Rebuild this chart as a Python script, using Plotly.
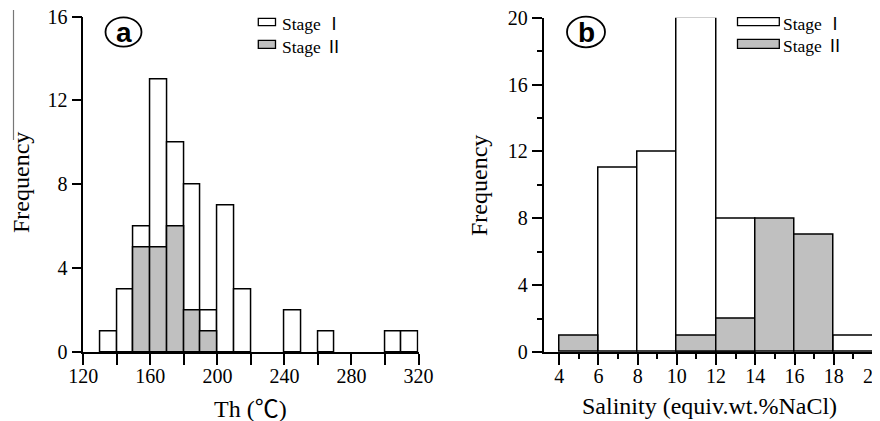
import plotly.graph_objects as go

# ---------------- data ----------------
# Panel a: homogenization temperature Th (°C), bin width 10
th_stage1_left = [130, 140, 150, 160, 170, 180, 190, 200, 210, 240, 260, 300, 310]
th_stage1_freq = [1, 3, 6, 13, 10, 8, 2, 7, 3, 2, 1, 1, 1]
th_stage2_left = [150, 160, 170, 180, 190]
th_stage2_freq = [5, 5, 6, 2, 1]
th_bin_width = 10

# Panel b: salinity (wt.% NaCl eq.), bin width 2
sal_stage1_left = [6, 8, 10, 12, 18]
sal_stage1_freq = [11, 12, 20, 8, 1]
sal_stage2_left = [4, 10, 12, 14, 16]
sal_stage2_freq = [1, 1, 2, 8, 7]
sal_bin_width = 2

series_names = ["Stage", "Stage"]
series_numerals = ["Ⅰ", "Ⅱ"]
# --------------------------------------

# the page body has an 8px default margin: work in window pixels, shifted
OFF = 8
W, H = 880 - OFF, 421 - OFF
def px(x):
    return (x - OFF) / W
def py(y):
    return 1 - (y - OFF) / H

SERIF = "Liberation Serif"
CJK = "Noto Sans CJK SC"
GRAY = "#c0c0c0"
LW = 1.5

def cjk(s):
    return '<span style="font-family:%s">%s</span>' % (CJK, s)

fig = go.Figure()

def add_bars(xl, yv, w, color, xa, ya):
    fig.add_trace(go.Bar(
        x=xl, y=yv, width=[w] * len(xl), offset=0,
        marker=dict(color=color, line=dict(color="black", width=LW)),
        xaxis=xa, yaxis=ya, showlegend=False,
    ))

add_bars(th_stage1_left, th_stage1_freq, th_bin_width, "white", "x", "y")
add_bars(th_stage2_left, th_stage2_freq, th_bin_width, GRAY, "x", "y")
add_bars(sal_stage1_left, sal_stage1_freq, sal_bin_width, "white", "x2", "y2")
add_bars(sal_stage2_left, sal_stage2_freq, sal_bin_width, GRAY, "x2", "y2")

tickfont = dict(family=SERIF, size=20, color="black")
common = dict(showline=True, linecolor="black", linewidth=LW, ticks="outside",
              tickcolor="black", tickwidth=LW, showgrid=False, zeroline=False,
              tickfont=tickfont, automargin=False, ticklabeloverflow="allow")

fig.update_layout(
    width=W, height=H,
    margin=dict(l=0, r=0, t=0, b=0),
    paper_bgcolor="white", plot_bgcolor="white",
    barmode="overlay", bargap=0,
    showlegend=False,
    font=dict(family=SERIF),
    xaxis=dict(domain=[px(83.3), px(418.5)], range=[120, 320], tick0=120, dtick=40,
               ticklen=11, ticklabelstandoff=-6,
               minor=dict(dtick=20, ticklen=11, ticks="outside",
                          tickcolor="black", tickwidth=LW),
               anchor="y", **common),
    yaxis=dict(domain=[py(352), py(16.5)], range=[0, 16], tick0=0, dtick=4,
               ticklen=10, anchor="x", **common),
    xaxis2=dict(domain=[px(543.5), px(873)], range=[3.2, 20], tick0=4, dtick=2,
                ticklen=11, ticklabelstandoff=-6,
                minor=dict(dtick=1, ticklen=5, ticks="outside",
                           tickcolor="black", tickwidth=LW),
                anchor="y2", **common),
    yaxis2=dict(domain=[py(352), py(17.7)], range=[0, 20], tick0=0, dtick=4,
                ticklen=10, minor=dict(dtick=2, ticklen=5, ticks="outside",
                                       tickcolor="black", tickwidth=LW),
                anchor="x2", **common),
)

titlefont = dict(family=SERIF, size=24, color="black")
ann = []
ann.append(dict(text="Frequency", x=px(21), y=py(183), textangle=-90, font=titlefont))
ann.append(dict(text="Frequency", x=px(479), y=py(186), textangle=-90, font=titlefont))
ann.append(dict(text="Th (" + cjk("℃") + ")", x=px(250), y=py(406), font=titlefont))
ann.append(dict(text="Salinity (equiv.wt.%NaCl)", x=px(709), y=py(406), font=titlefont))
# panel labels
labfont = dict(family="Liberation Sans", size=28, color="black")
ann.append(dict(text="<b>a</b>", x=px(123.5), y=py(32), font=labfont))
ann.append(dict(text="<b>b</b>", x=px(586), y=py(32), font=labfont))

shapes = []
shapes.append(dict(type="circle", xref="paper", yref="paper",
                   x0=px(105.5), x1=px(141.5), y0=py(46.7), y1=py(17.3),
                   line=dict(color="black", width=1.8)))
shapes.append(dict(type="circle", xref="paper", yref="paper",
                   x0=px(567), x1=px(605), y0=py(47.3), y1=py(16.7),
                   line=dict(color="black", width=1.8)))

# legends
legfont = dict(family=SERIF, size=17.5, color="black")
legends = [
    # (box x0, box x1, text x, rows [(y0, y1, yc)])
    (258.3, 275.5, 279.5, [(18.3, 25.7, 22.5), (40.3, 48.3, 45)]),
    (737.5, 779.3, 780.5, [(17.7, 25.7, 22.0), (39.3, 48.3, 44.5)]),
]
fills = ["white", GRAY]
for bx0, bx1, tx, rows in legends:
    for (y0, y1, yc), fill, name, num in zip(rows, fills, series_names, series_numerals):
        shapes.append(dict(type="rect", xref="paper", yref="paper",
                           x0=px(bx0), x1=px(bx1), y0=py(y1), y1=py(y0),
                           fillcolor=fill, line=dict(color="black", width=1.3)))
        ann.append(dict(text=name + " " + cjk(num), x=px(tx), y=py(yc), xanchor="left",
                        yanchor="middle", font=legfont))

# scanning artefact line at far left of panel a
shapes.append(dict(type="line", xref="paper", yref="paper",
                   x0=px(13.5), x1=px(13.5), y0=py(10), y1=py(140),
                   line=dict(color="#777777", width=1.2)))

for a in ann:
    a.setdefault("xref", "paper")
    a.setdefault("yref", "paper")
    a.setdefault("showarrow", False)
    a.setdefault("xanchor", "center")
    a.setdefault("yanchor", "middle")

fig.update_layout(annotations=ann, shapes=shapes)
fig.write_html("out.html")
